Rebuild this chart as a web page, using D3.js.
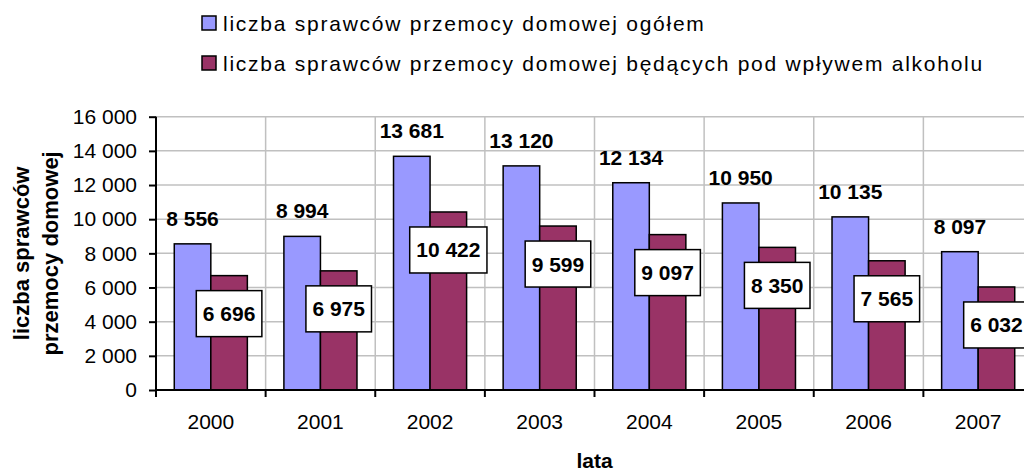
<!DOCTYPE html>
<html>
<head>
<meta charset="utf-8">
<script src="https://cdn.jsdelivr.net/npm/d3@7"></script>
<style>
  html, body { margin: 0; padding: 0; background: #fff; }
  svg { display: block; font-family: "Liberation Sans", Arial, sans-serif; }
</style>
</head>
<body>
<svg width="1024" height="471"></svg>
<script>
// chart data
var years = ["2000", "2001", "2002", "2003", "2004", "2005", "2006", "2007"];
var totalOffenders = [8556, 8994, 13681, 13120, 12134, 10950, 10135, 8097];
var alcoholOffenders = [6696, 6975, 10422, 9599, 9097, 8350, 7565, 6032];
var seriesNames = [
    "liczba sprawców przemocy domowej ogółem",
    "liczba sprawców przemocy domowej będących pod wpływem alkoholu"
];
var yTicks = [0, 2000, 4000, 6000, 8000, 10000, 12000, 14000, 16000];

const drawChart = () => {
    var svg = d3.select("svg");
    var colors = ["#9999ff", "#993366"];
    var margin = { top: 116.7, bottom: 81, left: 156, right: -9 }; // plot runs off the right edge
    var width = 1024, height = 471;

    var fmt = d3.formatLocale({ decimal: ",", thousands: " ", grouping: [3], currency: ["", ""] }).format(",d");

    // scales
    var x = d3.scaleBand()
        .domain(years)
        .range([margin.left, width - margin.right])
        .padding(0);
    var inner = d3.scaleBand()
        .domain([0, 1])
        .range([x.bandwidth() / 6, x.bandwidth() * 5 / 6]);
    var y = d3.scaleLinear()
        .domain([0, 16000])
        .range([height - margin.bottom, margin.top]);

    // grid lines
    var grid = svg.append("g").attr("stroke", "#c0c0c0").attr("stroke-width", 1.5);
    grid.selectAll("line.h")
        .data(yTicks.slice(1))
        .enter().append("line")
        .attr("x1", margin.left).attr("x2", width)
        .attr("y1", d => y(d)).attr("y2", d => y(d));
    grid.selectAll("line.v")
        .data(years.slice(1))
        .enter().append("line")
        .attr("x1", d => x(d)).attr("x2", d => x(d))
        .attr("y1", y(16000)).attr("y2", y(0));

    // bars
    var rows = years.map((yr, i) => ({ year: yr, vals: [totalOffenders[i], alcoholOffenders[i]] }));
    var groups = svg.selectAll("g.year")
        .data(rows)
        .enter().append("g")
        .attr("transform", d => "translate(" + [x(d.year), 0] + ")");
    groups.selectAll("rect")
        .data(d => d.vals.map((v, k) => ({ k: k, v: v })))
        .enter().append("rect")
        .attr("x", d => inner(d.k))
        .attr("y", d => y(d.v))
        .attr("width", inner.bandwidth())
        .attr("height", d => y(0) - y(d.v))
        .attr("fill", d => colors[d.k])
        .attr("stroke", "#000")
        .attr("stroke-width", 1.5);

    // axes
    var yAxis = d3.axisLeft(y).tickValues(yTicks).tickFormat(fmt).tickSize(7).tickPadding(12);
    var yg = svg.append("g")
        .attr("transform", "translate(" + [margin.left, 0] + ")")
        .call(yAxis);
    yg.select(".domain").attr("stroke-width", 2).attr("d", "M0," + y(16000) + "V" + y(0));
    yg.selectAll(".tick line").attr("stroke-width", 2);
    yg.selectAll("text").attr("font-size", 21).attr("font-family", "Liberation Sans").attr("fill", "#000");

    var xAxis = d3.axisBottom(x).tickSize(0).tickPadding(24);
    var xg = svg.append("g")
        .attr("transform", "translate(" + [0, y(0)] + ")")
        .call(xAxis);
    xg.select(".domain").attr("stroke-width", 2).attr("d", "M" + margin.left + ",0H" + width);
    xg.selectAll("text").attr("font-size", 21).attr("font-family", "Liberation Sans").attr("fill", "#000");
    xg.selectAll("line.bound")
        .data(years)
        .enter().append("line")
        .attr("x1", d => x(d)).attr("x2", d => x(d))
        .attr("y1", 0).attr("y2", 7)
        .attr("stroke", "#000").attr("stroke-width", 2);

    // value labels for total
    groups.append("text")
        .attr("x", inner(0) + inner.bandwidth() / 2)
        .attr("y", d => y(d.vals[0]) - 18)
        .attr("text-anchor", "middle")
        .attr("font-size", 21)
        .attr("font-weight", "bold")
        .text(d => fmt(d.vals[0]));

    // boxed labels for alcohol series
    groups.each(function (d) {
        var g = d3.select(this);
        var cx = inner(1) + inner.bandwidth() / 2;
        var cy = y(d.vals[1]) + 38;
        var t = g.append("text")
            .attr("x", cx)
            .attr("y", cy + 7.5)
            .attr("text-anchor", "middle")
            .attr("font-size", 21)
            .attr("font-weight", "bold")
            .text(fmt(d.vals[1]));
        var w = t.node().getComputedTextLength() + 13;
        g.insert("rect", "text:last-child")
            .attr("x", cx - w / 2)
            .attr("y", cy - 23)
            .attr("width", w)
            .attr("height", 46)
            .attr("fill", "#fff")
            .attr("stroke", "#000")
            .attr("stroke-width", 1.5);
    });

    // axis titles
    svg.append("text")
        .attr("x", x.range()[0] + (x.range()[1] - x.range()[0]) / 2)
        .attr("y", 468)
        .attr("text-anchor", "middle")
        .attr("font-size", 21)
        .attr("font-weight", "bold")
        .text("lata");
    var yt = svg.append("text")
        .attr("transform", "translate(" + [0, (y(0) + y(16000)) / 2] + ") rotate(-90)")
        .attr("text-anchor", "middle")
        .attr("font-size", 22)
        .attr("font-weight", "bold");
    yt.append("tspan").attr("x", 0).attr("y", 28.5).text("liczba sprawców");
    yt.append("tspan").attr("x", 0).attr("y", 58).text("przemocy domowej");

    // legend
    var legend = svg.selectAll("g.legend")
        .data(seriesNames)
        .enter().append("g")
        .attr("transform", (d, i) => "translate(" + [202, 16 + i * 40] + ")");
    legend.append("rect")
        .attr("width", 14).attr("height", 14)
        .attr("fill", (d, i) => colors[i])
        .attr("stroke", "#000").attr("stroke-width", 1.5);
    legend.append("text")
        .attr("x", 21)
        .attr("y", 14.5)
        .attr("font-size", 21)
        .attr("letter-spacing", 1.75)
        .text(d => d);
};

drawChart();
</script>
</body>
</html>
